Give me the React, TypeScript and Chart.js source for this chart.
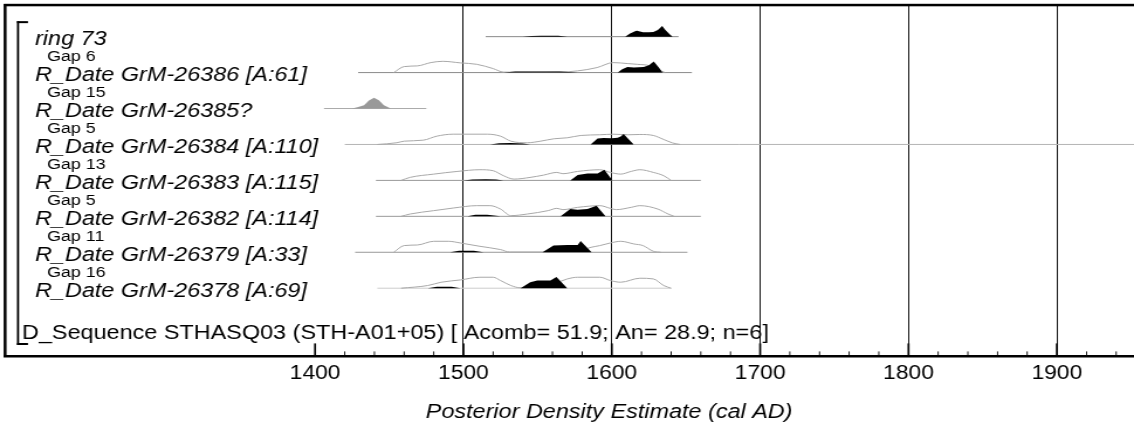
import React, { useEffect, useRef } from 'react';
import { Chart, registerables } from 'chart.js';

Chart.register(...registerables);

// ---------- data ----------
const rowLabels = [
  'ring 73',
  'R_Date GrM-26386 [A:61]',
  'R_Date GrM-26385?',
  'R_Date GrM-26384 [A:110]',
  'R_Date GrM-26383 [A:115]',
  'R_Date GrM-26382 [A:114]',
  'R_Date GrM-26379 [A:33]',
  'R_Date GrM-26378 [A:69]',
];
const gapLabels = ['', 'Gap 6', 'Gap 15', 'Gap 5', 'Gap 13', 'Gap 5', 'Gap 11', 'Gap 16'];
const sequenceLabel = 'D_Sequence STHASQ03 (STH-A01+05) [ Acomb= 51.9; An= 28.9; n=6]';
const axisTitle = 'Posterior Density Estimate (cal AD)';
const tickLabels = [1400, 1500, 1600, 1700, 1800, 1900];
const gridYears = [1500, 1600, 1700, 1800, 1900];

// calendar range of each distribution (baseline)
const rowRanges: [number, number][] = [
  [1515, 1645],
  [1429, 1654],
  [1406, 1475],
  [1420, 1952],
  [1441, 1660],
  [1441, 1660],
  [1427, 1651],
  [1442, 1640],
];

// unmodelled (likelihood) outlines
const outlineYears: number[][] = [
  [],
  [1453, 1460, 1469, 1478, 1486, 1498, 1509, 1520, 1527, 1545, 1565, 1577, 1590, 1601, 1611, 1617, 1626, 1631, 1636],
  [],
  [1442, 1455, 1460, 1473, 1482, 1493, 1516, 1525, 1532, 1543, 1552, 1561, 1570, 1579, 1592, 1601, 1611, 1619, 1628, 1635, 1641, 1646],
  [1458, 1464, 1480, 1496, 1511, 1520, 1527, 1534, 1545, 1554, 1563, 1567, 1577, 1592, 1599, 1606, 1613, 1619, 1628, 1635, 1640],
  [1458, 1464, 1480, 1493, 1509, 1518, 1525, 1532, 1543, 1557, 1563, 1567, 1577, 1592, 1599, 1603, 1613, 1619, 1631, 1638, 1642],
  [1453, 1460, 1469, 1480, 1490, 1498, 1511, 1525, 1531, 1560, 1579, 1586, 1592, 1599, 1606, 1615, 1621, 1628, 1633],
  [1458, 1476, 1485, 1498, 1511, 1520, 1525, 1532, 1538, 1552, 1562, 1570, 1577, 1592, 1599, 1606, 1619, 1628, 1635, 1640],
];
const outlineDens: number[][] = [
  [],
  [0, 6, 6.7, 10, 11.3, 9.7, 8.3, 4, 0.5, 0.3, 0.5, 1.7, 5, 10, 9, 8.3, 6.7, 3, 0],
  [],
  [0, 1.7, 3.3, 4.3, 8.3, 10.3, 10.3, 8.3, 3.3, 1.7, 3.3, 5.7, 6.7, 9, 9.7, 10.3, 9.7, 10, 9, 5, 1.5, 0],
  [0, 3, 6.3, 9, 10.7, 9.7, 4.7, 1.3, 3, 5.3, 8, 6.7, 9, 10.7, 8, 6.3, 9, 10.7, 8, 4.7, 0],
  [0, 2.3, 5.7, 8.3, 10.7, 10.7, 7.3, 0.7, 2.3, 5.7, 8, 6.7, 9, 10.7, 8, 6.7, 9, 10.7, 7.3, 2.3, 0],
  [0, 6.7, 7.3, 11, 11, 9.3, 6, 2.7, 0.3, 0.3, 2, 5, 6.7, 9.3, 11, 8.3, 6.7, 1, 0],
  [0, 2.7, 6, 8.3, 11, 11, 7.7, 2.7, 0.5, 1, 5, 9.3, 11, 11, 7.7, 6, 10, 9.3, 2.7, 0],
];

// modelled (posterior) distributions
const postYears: number[][] = [
  [1540, 1546, 1552, 1558, 1564, 1570, 1609, 1612, 1616, 1617, 1621, 1625, 1628, 1631, 1634, 1636, 1639, 1641],
  [1527, 1535, 1550, 1565, 1577, 1604, 1607, 1610.5, 1615, 1621.5, 1625, 1628.3, 1631.7, 1634.2],
  [1425, 1428.5, 1433, 1436.3, 1439.7, 1443, 1446.4, 1451],
  [1518, 1524, 1532, 1540, 1545, 1585.7, 1590.4, 1594.5, 1600, 1604, 1606, 1608, 1611.5, 1614.8],
  [1500, 1506, 1515, 1522, 1527, 1572, 1577, 1583.6, 1590.4, 1595, 1600.5],
  [1502.7, 1508, 1516, 1525, 1565.5, 1572, 1577, 1583.6, 1589.7, 1595.8],
  [1491, 1497, 1507, 1513.5, 1553.3, 1560.7, 1570, 1577, 1579, 1586.4],
  [1476, 1482, 1492, 1498, 1538.5, 1545, 1549.8, 1558.6, 1562.7, 1570],
];
const postDens: number[][] = [
  [0, 0.7, 1, 0.8, 1, 0, 0, 3, 5.7, 6, 4.5, 4.5, 4.7, 6.7, 10.7, 7, 2.3, 0],
  [0, 1, 1.2, 1, 0, 0, 3.3, 5.7, 5, 5.7, 7.3, 11, 5, 0],
  [0, 1.3, 3.3, 8, 10.7, 8.3, 3.3, 0],
  [0, 1.3, 1.5, 1, 0, 0, 6, 6.5, 6.3, 6.7, 8, 10.5, 5, 0],
  [0, 1, 1.2, 1, 0, 0, 5.3, 7, 7, 10.7, 0],
  [0, 1.5, 1.5, 0, 0, 7.3, 6.7, 7.3, 10.7, 0],
  [0, 1.5, 1.5, 0, 0, 6.7, 7.3, 7.3, 11.3, 0],
  [0, 1.5, 1.5, 0, 0, 6, 7.7, 7.7, 11.3, 0],
];

// ---------- styles / layout ----------
const STRETCH = 1.17; // horizontal stretch of the picture
const OUT_W = 1134;
const OUT_H = 433;
const CANVAS_W = Math.round(OUT_W / STRETCH);
const TOP = 5;
const AXIS_Y = 357;
const ROW_PX = 36;
const ROW0_PX = 36.7;
const X_MIN = 1191;
const X_MAX = 1952;
const Y_MAX = (ROW0_PX - TOP) / ROW_PX;
const Y_MIN = Y_MAX - (AXIS_Y - TOP) / ROW_PX;
const DENS = 1 / ROW_PX;
const FONT = '"Liberation Sans", Arial, Helvetica, sans-serif';
const baselineColors = ['#8a8a8a', '#8a8a8a', '#aaaaaa', '#b4b4b4', '#999999', '#999999', '#999999', '#cccccc'];
const postColors = ['#000', '#000', '#999', '#000', '#000', '#000', '#000', '#000'];
const sx = (realPx: number) => realPx / STRETCH;

const decorPlugin = {
  id: 'oxcalDecor',
  afterDraw(chart: any) {
    const { ctx, chartArea, scales } = chart;
    const xs = scales.x;
    const ys = scales.y;
    const { left, right, top, bottom } = chartArea;
    ctx.save();
    ctx.fillStyle = '#000';
    // frame: top and left
    ctx.fillRect(left - 1, top - 1.2, right - left + 1, 2.5);
    ctx.fillRect(left - 1.2, top - 1, 2.5, bottom - top + 1);
    // tick marks (every 20 years, long ones at the hundreds)
    xs.ticks.forEach((t: any) => {
      if (t.value < tickLabels[0]) return;
      const px = xs.getPixelForValue(t.value);
      const major = t.value % 100 === 0;
      const h = major ? 13 : 5;
      const w = major ? 1.7 : 0.9;
      ctx.fillRect(px - w / 2, bottom - h, w, h);
    });
    // bracket
    const bx = left + sx(13);
    const bTop = ys.getPixelForValue(0) - 14.5;
    const bBot = 344;
    ctx.fillRect(bx - 0.9, bTop - 1, 1.8, bBot - bTop + 2);
    ctx.fillRect(bx - 0.9, bTop - 1, sx(11), 2);
    ctx.fillRect(bx - 0.9, bBot - 1, sx(11), 2);
    // labels
    ctx.textBaseline = 'alphabetic';
    ctx.textAlign = 'left';
    rowLabels.forEach((lab, i) => {
      const y = ys.getPixelForValue(-i) + 8.3;
      ctx.font = `italic 20px ${FONT}`;
      ctx.fillText(lab, left + sx(30), y);
      if (gapLabels[i]) {
        ctx.font = `15.3px ${FONT}`;
        ctx.fillText(gapLabels[i], left + sx(42), y - 20);
      }
    });
    ctx.font = `20px ${FONT}`;
    ctx.fillText(sequenceLabel, left + sx(17), ys.getPixelForValue(-rowLabels.length) + 15);
    // axis title
    ctx.font = `italic 20px ${FONT}`;
    ctx.textAlign = 'center';
    ctx.fillText(axisTitle, sx(609), 418);
    ctx.restore();
  },
};

export default function App() {
  const ref = useRef<HTMLCanvasElement>(null);
  useEffect(() => {
    document.body.style.margin = '0';
    const datasets: any[] = [];
    rowLabels.forEach((_, i) => {
      datasets.push({
        data: [
          { x: rowRanges[i][0], y: -i },
          { x: rowRanges[i][1], y: -i },
        ],
        borderColor: baselineColors[i],
        borderWidth: 1,
        pointRadius: 0,
        fill: false,
        order: 3,
      });
      if (outlineYears[i].length) {
        datasets.push({
          data: outlineYears[i].map((x, k) => ({ x, y: -i + outlineDens[i][k] * DENS })),
          borderColor: '#a8a8a8',
          borderWidth: 1,
          pointRadius: 0,
          fill: false,
          cubicInterpolationMode: 'monotone',
          order: 2,
        });
      }
      datasets.push({
        data: postYears[i].map((x, k) => ({ x, y: -i + postDens[i][k] * DENS })),
        borderColor: 'rgba(0,0,0,0)',
        borderWidth: 0.5,
        backgroundColor: postColors[i],
        fill: { value: -i },
        pointRadius: 0,
        tension: 0,
        order: 1,
      });
    });

    const chart = new Chart(ref.current as HTMLCanvasElement, {
      type: 'line',
      data: { datasets },
      options: {
        responsive: false,
        animation: false,
        devicePixelRatio: 1,
        events: [],
        layout: { padding: { left: sx(5), top: TOP, right: 0, bottom: 41.2 } },
        plugins: {
          legend: { display: false },
          tooltip: { enabled: false },
        },
        scales: {
          x: {
            type: 'linear',
            position: 'bottom',
            min: X_MIN,
            max: X_MAX,
            grid: {
              drawTicks: false,
              drawOnChartArea: true,
              lineWidth: 1,
              color: (c: any) =>
                c.tick && gridYears.includes(c.tick.value) ? '#111' : 'rgba(0,0,0,0)',
            },
            border: { display: true, color: '#000', width: 2.5 },
            ticks: {
              stepSize: 20,
              includeBounds: false,
              autoSkip: false,
              maxRotation: 0,
              minRotation: 0,
              padding: 6,
              color: '#000',
              font: { family: FONT, size: 19.5 },
              callback: (v: any) => (tickLabels.includes(Number(v)) ? String(v) : ''),
            },
          },
          y: { type: 'linear', display: false, min: Y_MIN, max: Y_MAX },
        },
      },
      plugins: [decorPlugin],
    } as any);
    return () => chart.destroy();
  }, []);
  return (
    <canvas
      ref={ref}
      width={CANVAS_W}
      height={OUT_H}
      style={{ width: `${OUT_W}px`, height: `${OUT_H}px`, display: 'block' }}
    />
  );
}
